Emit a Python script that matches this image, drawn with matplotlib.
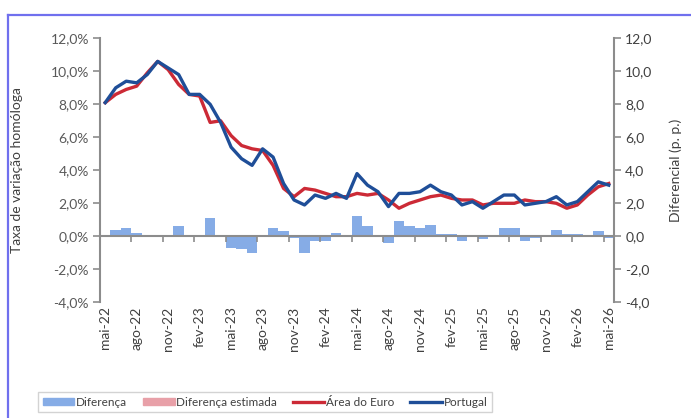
import matplotlib
matplotlib.use("Agg")
import matplotlib.pyplot as plt
from matplotlib.lines import Line2D
from matplotlib.patches import Patch

plt.rcParams['font.family'] = ['Lato', 'DejaVu Sans']

# monthly data, mai-22 .. mai-26
portugal = [8.1, 9.0, 9.4, 9.3, 9.8, 10.6, 10.2, 9.8,
            8.6, 8.6, 8.0, 6.9, 5.4, 4.7, 4.3, 5.3, 4.8, 3.2, 2.2, 1.9,
            2.5, 2.3, 2.6, 2.3, 3.8, 3.1, 2.7, 1.8, 2.6, 2.6, 2.7, 3.1,
            2.7, 2.5, 1.9, 2.1, 1.7, 2.1, 2.5, 2.5, 1.9, 2.0, 2.1, 2.4,
            1.9, 2.1, 2.7, 3.3, 3.1]
area_euro = [8.1, 8.6, 8.9, 9.1, 9.9, 10.6, 10.1, 9.2,
             8.6, 8.5, 6.9, 7.0, 6.1, 5.5, 5.3, 5.2, 4.3, 2.9, 2.4, 2.9,
             2.8, 2.6, 2.4, 2.4, 2.6, 2.5, 2.6, 2.2, 1.7, 2.0, 2.2, 2.4,
             2.5, 2.3, 2.2, 2.2, 1.9, 2.0, 2.0, 2.0, 2.2, 2.1, 2.1, 2.0,
             1.7, 1.9, 2.5, 3.0, 3.2]
diferenca = [0.0, 0.4, 0.5, 0.2, -0.05, 0.0, 0.05, 0.6,
             0.03, 0.0, 1.1, 0.0, -0.7, -0.8, -1.0, 0.05, 0.5, 0.3, -0.1, -1.0,
             -0.3, -0.3, 0.2, -0.05, 1.2, 0.6, 0.1, -0.4, 0.9, 0.6, 0.5, 0.7,
             0.15, 0.15, -0.3, 0.0, -0.15, 0.05, 0.5, 0.5, -0.3, -0.1, 0.0, 0.4,
             0.15, 0.15, 0.05, 0.3, -0.1]
diferenca_estimada = []  # no estimated months shown

tick_labels = ['mai-22', 'ago-22', 'nov-22', 'fev-23', 'mai-23', 'ago-23',
               'nov-23', 'fev-24', 'mai-24', 'ago-24', 'nov-24', 'fev-25',
               'mai-25', 'ago-25', 'nov-25', 'fev-26', 'mai-26']

c_bar = '#86ACE6'
c_est = '#E8A0A8'
c_red = '#CC2A36'
c_blue = '#1F4E98'
c_axis = '#8C8C8C'
c_text = '#404040'

x = list(range(len(portugal)))

fig = plt.figure(figsize=(6.91, 4.18), dpi=100)
ax = fig.add_axes([0.1447, 0.2768, 0.7439, 0.6316])
ax2 = ax.twinx()

# bars on the right axis (differential, p.p.)
ax2.bar(x, diferenca, width=1.0, color=c_bar, zorder=1)
ax2.bar(range(len(diferenca_estimada)), diferenca_estimada, width=1.0, color=c_est)

# lines on the left axis
ax.plot(x, area_euro, color=c_red, lw=2.4, zorder=3)
ax.plot(x, portugal, color=c_blue, lw=2.4, zorder=4)

ax.set_zorder(ax2.get_zorder() + 1)
ax.patch.set_visible(False)

for a in (ax, ax2):
    a.set_ylim(-4, 12)
    a.set_xlim(-0.5, len(x) - 0.5)

ax.set_yticks(range(-4, 13, 2))
ax.set_yticklabels([f'{v:.1f}%'.replace('.', ',') for v in range(-4, 13, 2)])
ax2.set_yticks(range(-4, 13, 2))
ax2.set_yticklabels([f'{v:.1f}'.replace('.', ',') for v in range(-4, 13, 2)])

# x axis crossing at zero, tick marks at category boundaries
ax.spines['bottom'].set_position(('data', 0))
ax.set_xticks([b - 0.5 for b in range(0, len(x), 3)])
ax.tick_params(axis='x', labelbottom=False, direction='out', length=4,
               width=1.2, color=c_axis)
sec = ax.secondary_xaxis('bottom')
sec.set_xticks(range(0, len(x), 3))
sec.set_xticklabels(tick_labels, rotation=90, fontsize=10, color=c_text)
sec.tick_params(length=0, pad=3)
sec.spines['bottom'].set_visible(False)

ax.spines['top'].set_visible(False)
ax.spines['right'].set_visible(False)
for s in ('left', 'bottom'):
    ax.spines[s].set_color(c_axis)
    ax.spines[s].set_linewidth(1.5)
for s in ('top', 'left', 'bottom'):
    ax2.spines[s].set_visible(False)
ax2.spines['right'].set_color(c_axis)
ax2.spines['right'].set_linewidth(1.5)

ax.tick_params(axis='y', direction='out', length=5, width=1.2, color=c_axis,
               labelsize=10, labelcolor='#595959', pad=3)
ax2.tick_params(axis='y', direction='out', length=5, width=1.2, color=c_axis,
                labelsize=10, labelcolor=c_text, pad=3)

ax.set_ylabel('Taxa de variação homóloga', fontsize=10, color=c_text, labelpad=20)
ax2.set_ylabel('Diferencial (p. p.)', fontsize=10, color=c_text, labelpad=12)

# legend
handles = [Patch(color=c_bar), Patch(color=c_est),
           Line2D([], [], color=c_red, lw=2.4), Line2D([], [], color=c_blue, lw=2.4)]
labels = ['Diferença', 'Diferença estimada', 'Área do Euro', 'Portugal']
fig.legend(handles, labels, loc='center', bbox_to_anchor=(0.3835, 0.038),
           ncol=4, fontsize=8.5, frameon=True, fancybox=False,
           edgecolor='#C8C8C8', handlelength=2.7, handleheight=0.6,
           handletextpad=0.15, columnspacing=1.3, borderpad=0.35,
           labelcolor=c_text)

# blue frame of the box around the chart
fig.add_artist(Line2D([0.0116, 0.0116], [0.0, 0.964], color='#7070EE', lw=1.6))
fig.add_artist(Line2D([0.0116, 1.0], [0.964, 0.964], color='#7070EE', lw=1.6))

fig.savefig('out.png', dpi=100)
